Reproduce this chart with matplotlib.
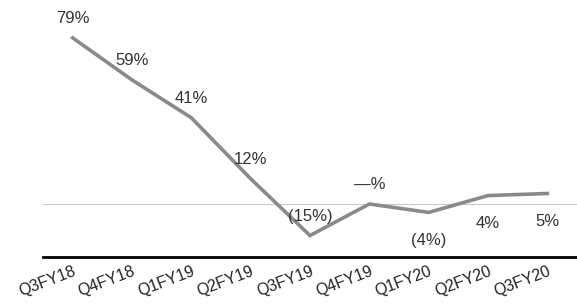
import matplotlib.pyplot as plt

# quarters and growth (%)
quarters = ['Q3FY18', 'Q4FY18', 'Q1FY19', 'Q2FY19', 'Q3FY19',
            'Q4FY19', 'Q1FY20', 'Q2FY20', 'Q3FY20']
growth = [79, 59, 41, 12, -15, 0, -4, 4, 5]
labels = ['79%', '59%', '41%', '12%', '(15%)', '—%', '(4%)', '4%', '5%']
# label above (+1) or below (-1) the point
side = [1, 1, 1, 1, 1, 1, -1, -1, -1]

plt.rcParams['font.family'] = ['Liberation Sans', 'DejaVu Sans']

fig = plt.figure(figsize=(5.77, 3.04), dpi=100)
ax = fig.add_axes([43 / 577, (304 - 257) / 304, 534 / 577, 257 / 304])

x = list(range(len(quarters)))
ax.axhline(0, color='#c8c8c8', lw=0.8, zorder=1)
ax.plot(x, growth, color='#8a8a8a', lw=2.6, solid_joinstyle='miter', zorder=2)

for i, v in enumerate(growth):
    dy = 14 if side[i] > 0 else -20
    ax.annotate(labels[i], (i, v), xytext=(0, dy), textcoords='offset points',
                ha='center', va='center', fontsize=12, color='#333333')

ax.set_xlim(-0.5, 8.5)
ax.set_ylim(-25.2, 97)
ax.set_xticks(x)
ax.set_xticklabels(quarters, rotation=21, ha='right', rotation_mode='anchor',
                   fontsize=11.5, color='#222222')
ax.tick_params(axis='x', length=0, pad=5)
ax.set_yticks([])
for s in ['top', 'right', 'left']:
    ax.spines[s].set_visible(False)
ax.spines['bottom'].set_linewidth(2)
ax.spines['bottom'].set_color('black')

fig.savefig('out.png', dpi=100)
